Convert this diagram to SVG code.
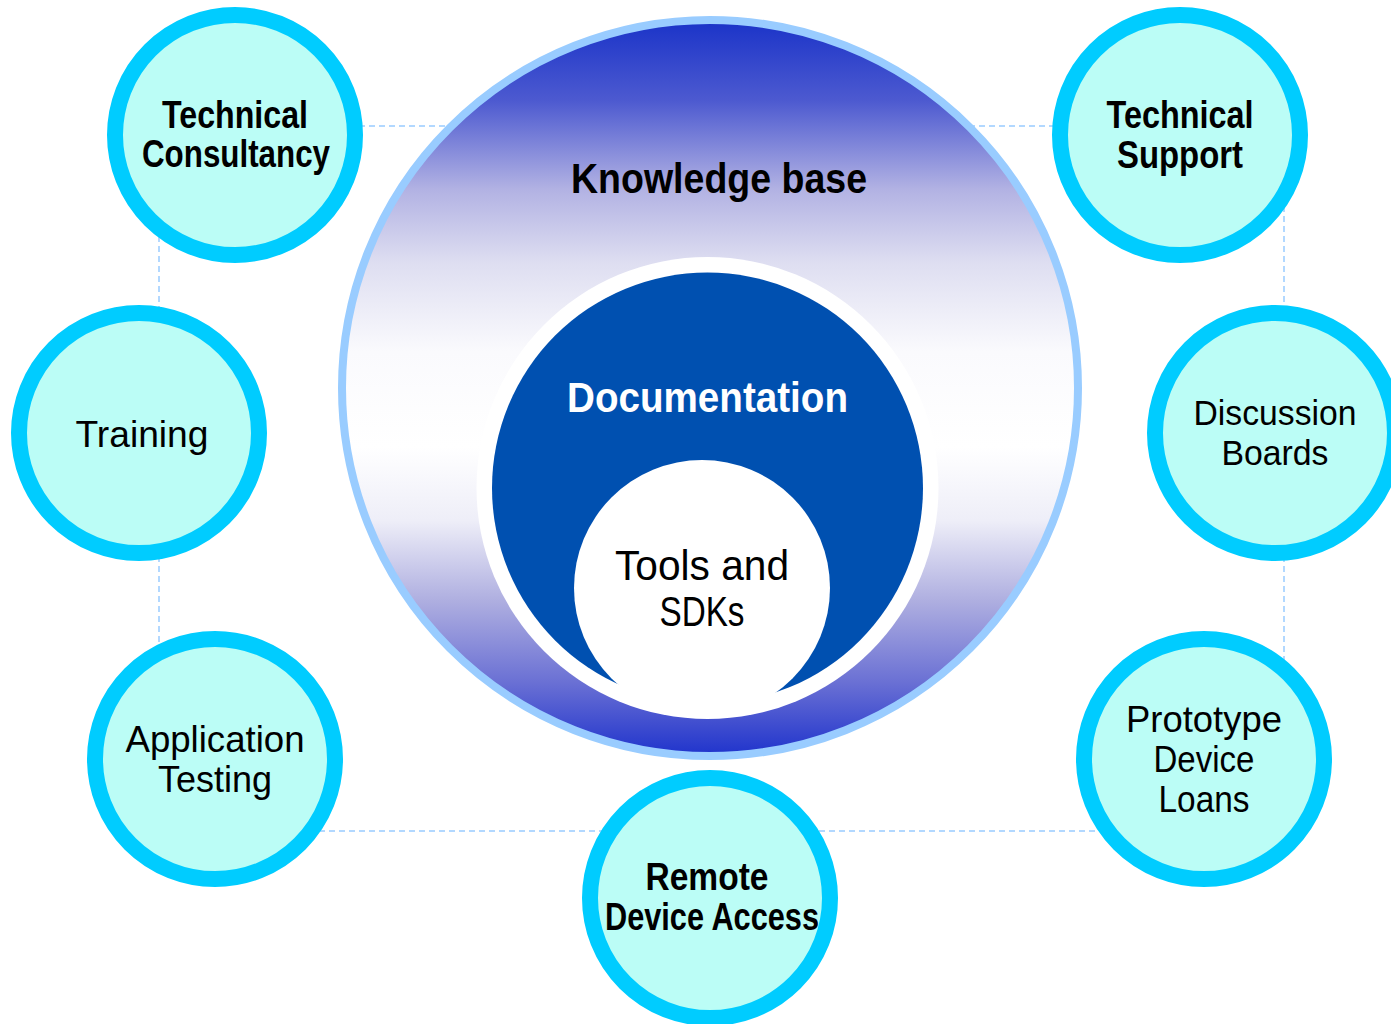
<svg xmlns="http://www.w3.org/2000/svg" width="1391" height="1024" viewBox="0 0 1391 1024">
<style>
.bg{fill:#ffffff}
.conn{stroke:#99ccff;stroke-width:1.5;stroke-dasharray:6 4;fill:none}
.sat{fill:#bbfdf6;stroke:#00ccff;stroke-width:16}
.tb{font-family:"Liberation Sans",Arial,sans-serif;font-weight:bold;fill:#000;text-anchor:middle}
.tr{font-family:"Liberation Sans",Arial,sans-serif;font-weight:normal;fill:#000;text-anchor:middle}
</style>
<defs>
<linearGradient id="kb" gradientUnits="userSpaceOnUse" x1="0" y1="20" x2="0" y2="756">
<stop offset="0" stop-color="#1a33c8"/>
<stop offset="0.11" stop-color="#4d5ad0"/>
<stop offset="0.23" stop-color="#b2b2e3"/>
<stop offset="0.33" stop-color="#dedef1"/>
<stop offset="0.45" stop-color="#fafafd"/>
<stop offset="0.58" stop-color="#ffffff"/>
<stop offset="0.68" stop-color="#eeeef8"/>
<stop offset="0.79" stop-color="#aeaee0"/>
<stop offset="0.9" stop-color="#6a70d4"/>
<stop offset="1" stop-color="#1f33cc"/>
</linearGradient>
</defs>
<rect class="bg" x="0" y="0" width="1391" height="1024"/>
<g id="connectors">
<line class="conn" x1="159" y1="126" x2="1284" y2="126"/>
<line class="conn" x1="159" y1="126" x2="159" y2="831"/>
<line class="conn" x1="1284" y1="126" x2="1284" y2="831"/>
<line class="conn" x1="159" y1="831" x2="1284" y2="831"/>
</g>
<g id="knowledge-base">
<circle cx="710" cy="388" r="368" fill="url(#kb)" stroke="#99ccff" stroke-width="8"/>
<text class="tb" x="719" y="193" font-size="43" textLength="296" lengthAdjust="spacingAndGlyphs">Knowledge base</text>
</g>
<g id="documentation">
<circle cx="707.5" cy="488" r="231" fill="#ffffff"/>
<circle cx="707.5" cy="488" r="215.5" fill="#0050b0"/>
<text class="tb" x="707.5" y="412" font-size="42" textLength="281" lengthAdjust="spacingAndGlyphs" style="fill:#ffffff">Documentation</text>
</g>
<g id="tools-sdks">
<circle cx="702" cy="588" r="128" fill="#ffffff"/>
<text class="tr" x="702" y="580" font-size="42" textLength="174" lengthAdjust="spacingAndGlyphs">Tools and</text>
<text class="tr" x="702" y="626" font-size="42" textLength="85" lengthAdjust="spacingAndGlyphs">SDKs</text>
</g>
<g id="technical-consultancy">
<circle class="sat" cx="235" cy="135" r="120"/>
<text class="tb" x="235" y="128" font-size="38" textLength="146" lengthAdjust="spacingAndGlyphs">Technical</text>
<text class="tb" x="236" y="167" font-size="38" textLength="188" lengthAdjust="spacingAndGlyphs">Consultancy</text>
</g>
<g id="technical-support">
<circle class="sat" cx="1180" cy="135" r="120"/>
<text class="tb" x="1180" y="128" font-size="38" textLength="147" lengthAdjust="spacingAndGlyphs">Technical</text>
<text class="tb" x="1180" y="168" font-size="38" textLength="126" lengthAdjust="spacingAndGlyphs">Support</text>
</g>
<g id="training">
<circle class="sat" cx="139" cy="433" r="120"/>
<text class="tr" x="142" y="447" font-size="36" textLength="133" lengthAdjust="spacingAndGlyphs">Training</text>
</g>
<g id="discussion-boards">
<circle class="sat" cx="1275" cy="433" r="120"/>
<text class="tr" x="1275" y="425" font-size="35" textLength="163" lengthAdjust="spacingAndGlyphs">Discussion</text>
<text class="tr" x="1275" y="465" font-size="35" textLength="107" lengthAdjust="spacingAndGlyphs">Boards</text>
</g>
<g id="application-testing">
<circle class="sat" cx="215" cy="759" r="120"/>
<text class="tr" x="215" y="752" font-size="37" textLength="179" lengthAdjust="spacingAndGlyphs">Application</text>
<text class="tr" x="215" y="792" font-size="37" textLength="114" lengthAdjust="spacingAndGlyphs">Testing</text>
</g>
<g id="prototype-device-loans">
<circle class="sat" cx="1204" cy="759" r="120"/>
<text class="tr" x="1204" y="732" font-size="36.5" textLength="156" lengthAdjust="spacingAndGlyphs">Prototype</text>
<text class="tr" x="1204" y="772" font-size="36.5" textLength="101" lengthAdjust="spacingAndGlyphs">Device</text>
<text class="tr" x="1204" y="812" font-size="36.5" textLength="91" lengthAdjust="spacingAndGlyphs">Loans</text>
</g>
<g id="remote-device-access">
<circle class="sat" cx="710" cy="898" r="120"/>
<text class="tb" x="707" y="890" font-size="38" textLength="123" lengthAdjust="spacingAndGlyphs">Remote</text>
<text class="tb" x="712" y="930" font-size="38" textLength="214" lengthAdjust="spacingAndGlyphs">Device Access</text>
</g>
</svg>
